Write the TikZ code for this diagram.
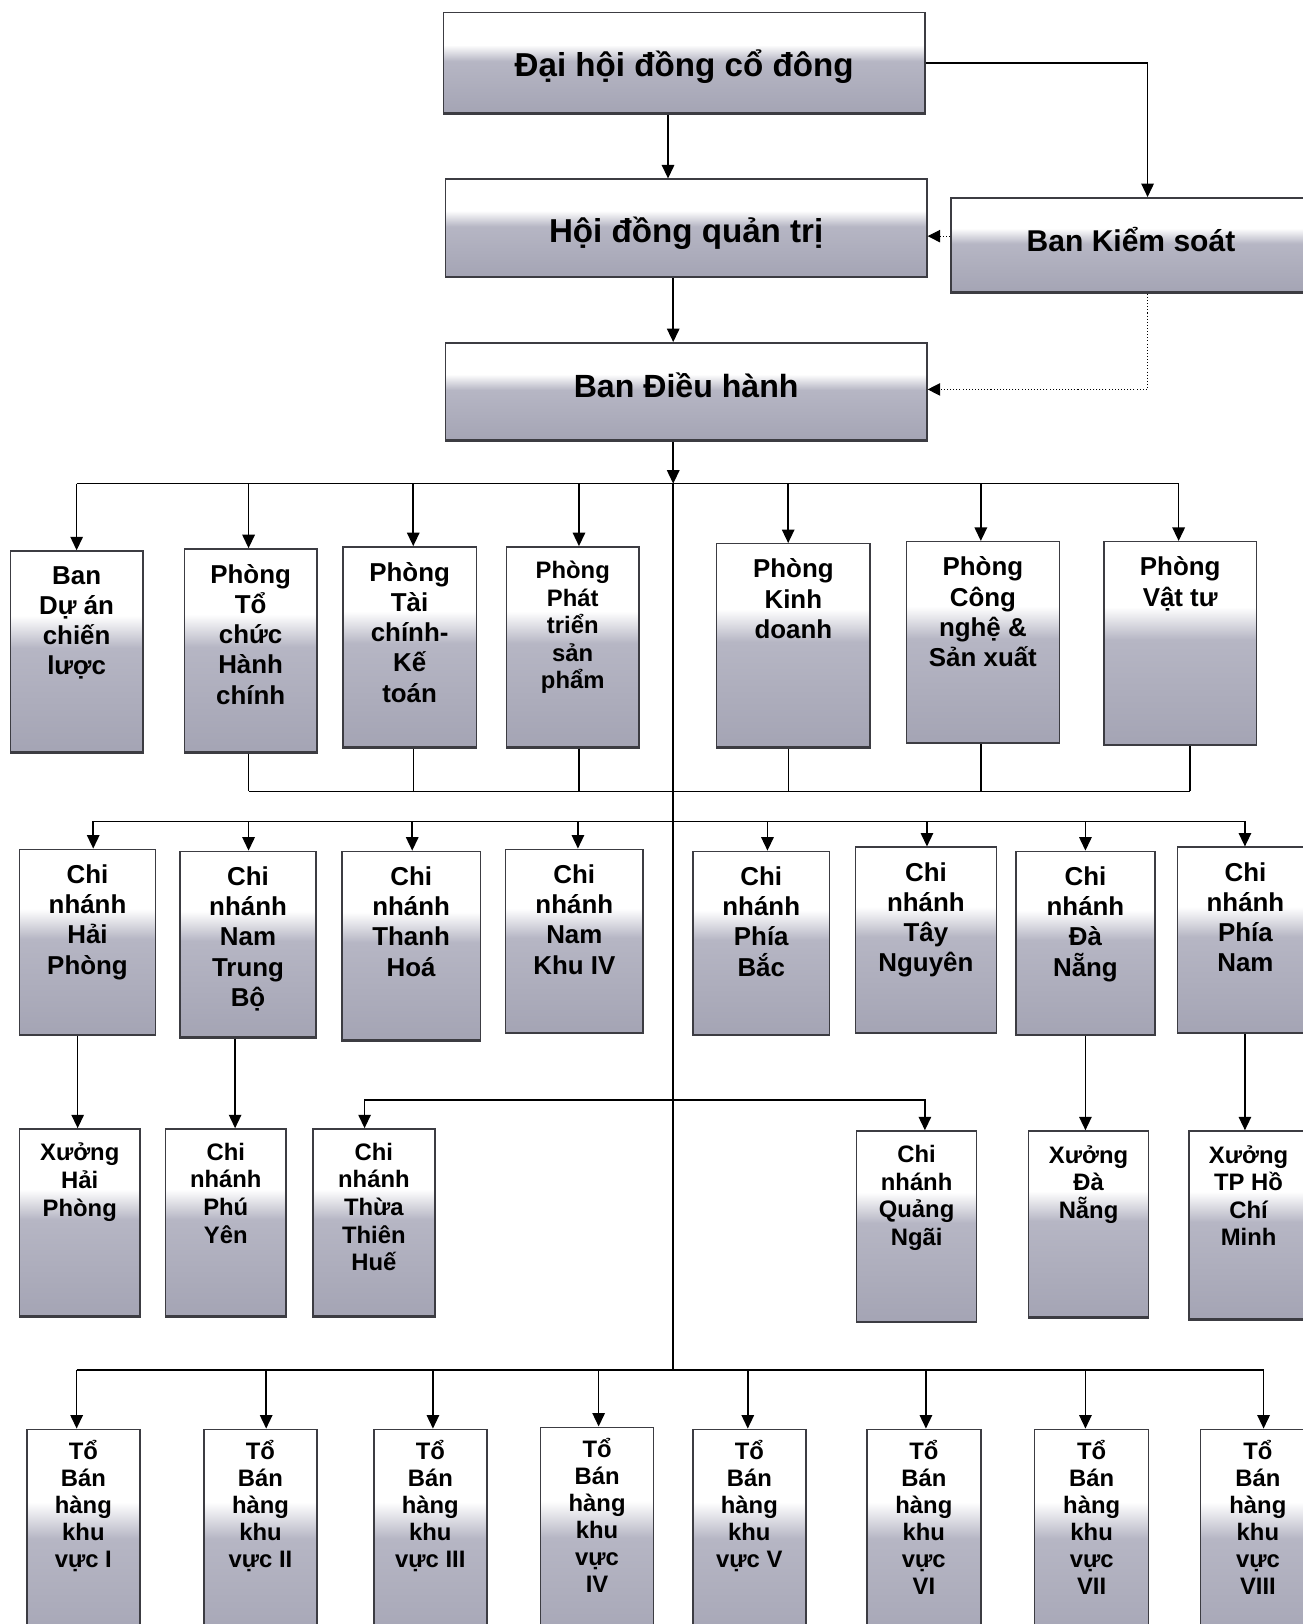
\documentclass[tikz,border=0pt]{standalone}
\usepackage{fontspec}
\setmainfont{Liberation Sans}
\usetikzlibrary{arrows.meta,fit}
\definecolor{boxlo}{RGB}{164,164,180}
\definecolor{boxmd}{RGB}{182,182,196}
\definecolor{boxedge}{RGB}{60,60,66}
\pgfdeclareverticalshading{orgshade}{100bp}{color(0bp)=(boxlo); color(25bp)=(boxlo); color(51bp)=(boxmd); color(59bp)=(white); color(100bp)=(white)}
\newcommand\ob[7]{\node[box, fit={(#2,#3) (#4,#5)}] (#1) {};\node[#6] (#1t) at (#1.north) {#7};}
\begin{document}
\begin{tikzpicture}[x=0.5pt, y=-0.5pt,
  box/.style={draw=boxedge, line width=0.7pt, shading=orgshade, inner sep=0pt,
    path picture={\draw[boxedge, line width=2pt] (path picture bounding box.south west) -- (path picture bounding box.south east);}},
  txtbase/.style={anchor=north, align=center, inner sep=0pt},
  tA/.style={txtbase, yshift=-7.5pt, font=\bfseries\fontsize{12.5pt}{14.6pt}\selectfont},
  tB/.style={txtbase, yshift=-7pt, font=\bfseries\fontsize{11.5pt}{13.3pt}\selectfont},
  tC/.style={txtbase, yshift=-5.5pt, font=\bfseries\fontsize{11.5pt}{13pt}\selectfont},
  big/.style={inner sep=0pt, font=\bfseries\fontsize{#1}{#1}\selectfont},
  line/.style={line width=0.75pt},
  thinline/.style={line width=0.4pt},
  arr/.style={-{Triangle[length=6.5pt,width=6pt]}, line width=0.75pt},
  darr/.style={-{Triangle[length=6pt,width=6pt]}, line width=0.5pt, densely dotted}]
\useasboundingbox (0,0) rectangle (1258,1568);
\fill[white] (0,0) rectangle (1258,1568);
\clip (0,0) rectangle (1258,1568);

% top boxes
\node[box, fit={(428,12) (893,110)}] (dh) {};
\node[big=16pt] (dht) at ([yshift=-1.5pt]dh.center) {Đại hội đồng cổ đông};
\node[box, fit={(430,173) (895,268)}] (hd) {};
\node[big=16pt] (hdt) at ([yshift=-2.5pt]hd.center) {Hội đồng quản trị};
\node[box, fit={(918,191) (1266,283)}] (bks) {};
\node[big=14.5pt] (bkst) at ([yshift=3pt]bks.center) {Ban Kiểm soát};
\node[box, fit={(430,331) (895,426)}] (bdh) {};
\node[big=15.5pt] (bdht) at ([yshift=3pt]bdh.center) {Ban Điều hành};

% row 1
\ob{r1a}{10}{532}{138}{727}{tA}{Ban\\Dự án\\chiến\\lược}
\ob{r1b}{178}{530}{306}{727}{tA}{Phòng\\Tổ\\chức\\Hành\\chính}
\ob{r1c}{331}{528}{460}{722}{tA}{Phòng\\Tài\\chính-\\Kế\\toán}
\ob{r1d}{489}{528}{617}{722}{tB}{Phòng\\Phát\\triển\\sản\\phẩm}
\ob{r1e}{692}{525}{840}{722}{tA}{Phòng\\Kinh\\doanh}
\ob{r1f}{875}{523}{1023}{718}{tA}{Phòng\\Công\\nghệ \&\\Sản xuất}
\ob{r1g}{1066}{523}{1213}{720}{tA}{Phòng\\Vật tư}

% row 2
\ob{r2a}{19}{820}{150}{1000}{tA}{Chi\\nhánh\\Hải\\Phòng}
\ob{r2b}{174}{822}{305}{1002}{tA}{Chi\\nhánh\\Nam\\Trung\\Bộ}
\ob{r2c}{330}{822}{464}{1005}{tA}{Chi\\nhánh\\Thanh\\Hoá}
\ob{r2d}{488}{820}{621}{998}{tA}{Chi\\nhánh\\Nam\\Khu IV}
\ob{r2e}{669}{822}{801}{1000}{tA}{Chi\\nhánh\\Phía\\Bắc}
\ob{r2f}{826}{818}{962}{998}{tA}{Chi\\nhánh\\Tây\\Nguyên}
\ob{r2g}{981}{822}{1115}{1000}{tA}{Chi\\nhánh\\Đà\\Nẵng}
\ob{r2h}{1137}{818}{1268}{998}{tA}{Chi\\nhánh\\Phía\\Nam}

% row 3
\ob{r3a}{19}{1090}{135}{1272}{tB}{Xưởng\\Hải\\Phòng}
\ob{r3b}{160}{1090}{276}{1272}{tB}{Chi\\nhánh\\Phú\\Yên}
\ob{r3c}{302}{1090}{420}{1272}{tB}{Chi\\nhánh\\Thừa\\Thiên\\Huế}
\ob{r3d}{827}{1092}{943}{1277}{tB}{Chi\\nhánh\\Quảng\\Ngãi}
\ob{r3e}{993}{1092}{1109}{1273}{tB}{Xưởng\\Đà\\Nẵng}
\ob{r3f}{1148}{1092}{1263}{1275}{tB}{Xưởng\\TP Hồ\\Chí\\Minh}

% row 4
\ob{r4a}{26}{1380}{135}{1600}{tC}{Tổ\\Bán\\hàng\\khu\\vực I}
\ob{r4b}{197}{1380}{306}{1600}{tC}{Tổ\\Bán\\hàng\\khu\\vực II}
\ob{r4c}{361}{1380}{470}{1600}{tC}{Tổ\\Bán\\hàng\\khu\\vực III}
\ob{r4d}{522}{1378}{631}{1600}{tC}{Tổ\\Bán\\hàng\\khu\\vực\\IV}
\ob{r4e}{669}{1380}{778}{1600}{tC}{Tổ\\Bán\\hàng\\khu\\vực V}
\ob{r4f}{837}{1380}{947}{1600}{tC}{Tổ\\Bán\\hàng\\khu\\vực\\VI}
\ob{r4g}{999}{1380}{1109}{1600}{tC}{Tổ\\Bán\\hàng\\khu\\vực\\VII}
\ob{r4h}{1159}{1380}{1270}{1600}{tC}{Tổ\\Bán\\hàng\\khu\\vực\\VIII}

% top connectors
\draw[arr] (dh.south -| 645,0) -- (hd.north -| 645,0);
\draw[arr] (dh.east) -| (bks.north -| 1108,0);
\draw[darr] (bks.west |- 0,228) -- (hd.east |- 0,228);
\draw[darr] (bks.south -| 1108,0) |- (bdh.east |- 0,376);
\draw[arr] (hd.south -| 650,0) -- (bdh.north -| 650,0);

% trunk and buses
\coordinate (b1) at (650,467);
\coordinate (b2) at (650,764);
\coordinate (b3) at (650,793);
\coordinate (b5) at (650,1062);
\coordinate (b4) at (650,1323);
\draw[arr] (bdh.south -| b1) -- (b1);
\draw[line] (b1) -- (b4);

\draw[line] (b1 -| 74,0) -- (b1 -| 1138,0);
\foreach \n/\x in {r1a/74, r1b/240, r1c/399, r1d/559, r1e/761, r1f/947, r1g/1138}
  \draw[arr] (b1 -| \x,0) -- (\n.north -| \x,0);

\foreach \n/\x in {r1b/240, r1d/559, r1f/947, r1g/1149}
  \draw[line] (\n.south -| \x,0) -- (b2 -| \x,0);
\foreach \n/\x in {r1c/399, r1e/761}
  \draw[thinline] (\n.south -| \x,0) -- (b2 -| \x,0);
\draw[line] (b2 -| 240,0) -- (b2 -| 1149,0);

\draw[line] (b3 -| 90,0) -- (b3 -| 1202,0);
\foreach \n/\x in {r2a/90, r2b/240, r2c/398, r2d/558, r2e/741, r2f/895, r2g/1048, r2h/1202}
  \draw[arr] (b3 -| \x,0) -- (\n.north -| \x,0);

\draw[arr] (r2a.south -| 75,0) -- (r3a.north -| 75,0);
\draw[arr] (r2b.south -| 227,0) -- (r3b.north -| 227,0);
\draw[arr] (b5) -| (r3c.north -| 352,0);
\draw[arr] (b5) -| (r3d.north -| 893,0);
\draw[arr] (r2g.south -| 1048,0) -- (r3e.north -| 1048,0);
\draw[arr] (r2h.south -| 1202,0) -- (r3f.north -| 1202,0);

\draw[line] (b4 -| 74,0) -- (b4 -| 1220,0);
\foreach \n/\x in {r4a/74, r4b/257, r4c/418, r4d/578, r4e/722, r4f/894, r4g/1048, r4h/1220}
  \draw[arr] (b4 -| \x,0) -- (\n.north -| \x,0);
\end{tikzpicture}
\end{document}
